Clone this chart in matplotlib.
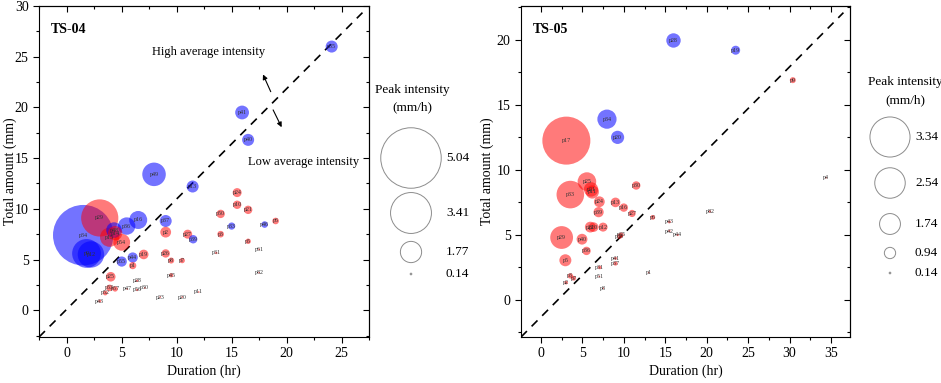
import numpy as np
import matplotlib
matplotlib.use("Agg")
import matplotlib.pyplot as plt
from matplotlib.ticker import MultipleLocator

plt.rcParams['font.family'] = ['Liberation Serif', 'DejaVu Serif']
plt.rcParams['axes.linewidth'] = 0.8

# TS-04 events: label, duration (hr), total amount (mm), peak intensity (mm/h), group
ts04_label = ['p35', 'p41', 'p40', 'p49', 'p13', 'p34', 'p9', 'p12', 'p16', 'p36', 'p48',
              'p37', 'p44', 'p55', 'p39', 'p33', 'p46',
              'p29', 'p15', 'p14', 'p54', 'p19', 'p1', 'p2', 'p27', 'p24', 'p10', 'p21',
              'p50', 'p3', 'p6', 'p5', 'p26', 'p8', 'p7', 'p25', 'p53', 'p57', 'p52',
              'p43', 'p45', 'p61', 'p31', 'p82', 'p28', 'p47', 'p56', 'p30', 'p23',
              'p20', 'p11']
ts04_dur = [24.1, 15.95, 16.5, 7.94, 11.45, 1.5, 1.8, 2.2, 6.5, 5.45, 4.3,
            9.0, 6.0, 5.0, 11.5, 15.0, 18.0,
            3.0, 3.9, 4.4, 5.0, 7.0, 6.0, 9.0, 11.0, 15.5, 15.5, 16.5,
            14.0, 14.0, 19.0, 16.5, 9.0, 9.5, 10.5, 4.0, 3.9, 4.4, 3.5,
            3.0, 9.5, 17.5, 13.6, 17.5, 6.4, 5.5, 6.4, 7.1, 8.5,
            10.5, 12.0]
ts04_amt = [26.0, 19.5, 16.8, 13.4, 12.2, 7.4, 5.6, 5.5, 8.9, 8.3, 7.9,
            8.8, 5.2, 4.8, 7.0, 8.3, 8.45,
            9.1, 7.2, 7.6, 6.7, 5.5, 4.4, 7.7, 7.5, 11.6, 10.4, 9.9,
            9.5, 7.5, 8.8, 6.8, 5.6, 4.9, 4.9, 3.3, 2.2, 2.1, 1.7,
            0.9, 3.45, 6.0, 5.65, 3.7, 2.9, 2.1, 2.0, 2.2, 1.3,
            1.3, 1.8]
ts04_peak = [1.0, 1.15, 1.0, 1.96, 1.0, 5.04, 2.4, 2.2, 1.5, 1.45, 1.3,
             1.0, 0.85, 0.85, 0.7, 0.6, 0.55,
             3.1, 1.6, 1.2, 1.4, 0.8, 0.6, 0.9, 0.75, 0.75, 0.7, 0.7,
             0.7, 0.55, 0.55, 0.45, 0.7, 0.5, 0.45, 0.8, 0.55, 0.45, 0.4,
             0.25, 0.35, 0.15, 0.2, 0.14, 0.2, 0.15, 0.2, 0.15, 0.14,
             0.14, 0.14]
ts04_grp = ['b'] * 17 + ['r'] * 34

# TS-05 events
ts05_label = ['p28', 'p19', 'p34', 'p20',
              'p9', 'p4', 'p17', 'p33', 'p25', 'p21', 'p11', 'p30', 'p24', 'p39',
              'p13', 'p16', 'p27', 'p6', 'p43', 'p42', 'p44', 'p82', 'p1', 'p22',
              'p10', 'p12', 'p29', 'p40', 'p36', 'p5', 'p38', 'p35', 'p41', 'p37',
              'p31', 'p51', 'p8', 'p3', 'p7', 'p2']
ts05_dur = [16.0, 23.5, 7.97, 9.25,
            30.4, 34.4, 3.07, 3.55, 5.55, 6.05, 6.2, 11.5, 7.05, 6.96,
            9.0, 10.0, 11.0, 13.5, 15.5, 15.5, 16.5, 20.4, 13.0, 5.96,
            6.36, 7.5, 2.5, 4.96, 5.5, 2.95, 9.5, 9.7, 9.0, 9.0,
            7.1, 7.05, 7.5, 3.55, 3.95, 3.04]
ts05_amt = [19.95, 19.2, 13.9, 12.5,
            16.9, 9.4, 12.25, 8.1, 9.1, 8.5, 8.3, 8.8, 7.55, 6.75,
            7.5, 7.1, 6.65, 6.35, 6.0, 5.3, 5.0, 6.8, 2.1, 5.6,
            5.6, 5.6, 4.8, 4.67, 3.77, 3.05, 4.9, 5.0, 3.2, 2.8,
            2.5, 1.8, 0.9, 1.85, 1.67, 1.33]
ts05_peak = [1.2, 0.75, 1.6, 1.1,
             0.5, 0.15, 4.0, 2.3, 1.55, 1.2, 1.1, 0.7, 0.9, 0.85,
             0.8, 0.7, 0.6, 0.4, 0.25, 0.2, 0.2, 0.2, 0.14, 0.9,
             0.8, 0.75, 1.9, 0.9, 0.7, 1.0, 0.45, 0.4, 0.25, 0.35,
             0.3, 0.15, 0.14, 0.45, 0.4, 0.3]
ts05_grp = ['b'] * 4 + ['r'] * 36

leg04 = [5.04, 3.41, 1.77, 0.14]
leg05 = [3.34, 2.54, 1.74, 0.94, 0.14]

colors = {'b': (0.0, 0.0, 1.0, 0.55), 'r': (1.0, 0.0, 0.0, 0.52)}


def bubble_size(v):
    # radius about 6 px per mm/h, figure at 100 dpi
    return (2 * 6.0 * np.asarray(v) * 0.72) ** 2


def draw_panel(ax, labels, dur, amt, peak, grp, xlim, ylim, xmax_tick, ymax_tick, tag, ylab_x):
    order = np.argsort(peak)[::-1]
    for i in order:
        ax.scatter(dur[i], amt[i], s=bubble_size(peak[i]), color=colors[grp[i]],
                   edgecolors='none', zorder=2)
        ax.text(dur[i], amt[i], labels[i], fontsize=4.3, color='#333333',
                ha='center', va='center', zorder=3)
    ax.plot([0, 0.98], [0, 0.98], transform=ax.transAxes, color='k',
            lw=1.2, ls=(0, (5, 4)), zorder=1)
    ax.set_xlim(*xlim)
    ax.set_ylim(*ylim)
    ax.set_xticks(np.arange(0, xmax_tick + 1, 5))
    ax.set_yticks(np.arange(0, ymax_tick + 1, 5))
    ax.xaxis.set_minor_locator(MultipleLocator(2.5))
    ax.yaxis.set_minor_locator(MultipleLocator(2.5))
    ax.tick_params(which='major', direction='out', length=4, width=0.8, labelsize=10)
    ax.tick_params(which='minor', direction='out', length=2.5, width=0.8)
    top = ax.secondary_xaxis('top')
    top.set_xticks(np.arange(0, xmax_tick + 1, 5))
    top.xaxis.set_minor_locator(MultipleLocator(2.5))
    top.tick_params(which='major', direction='in', length=4, width=0.8, labeltop=False)
    top.tick_params(which='minor', direction='in', length=2.5, width=0.8)
    right = ax.secondary_yaxis('right')
    right.set_yticks(np.arange(0, ymax_tick + 1, 5))
    right.yaxis.set_minor_locator(MultipleLocator(2.5))
    right.tick_params(which='major', direction='in', length=4, width=0.8, labelright=False)
    right.tick_params(which='minor', direction='in', length=2.5, width=0.8)
    ax.set_xlabel('Duration (hr)', fontsize=10, labelpad=3)
    ax.set_ylabel('Total amount (mm)', fontsize=10)
    ax.yaxis.set_label_coords(ylab_x, 0.5)
    ax.text(0.035, 0.93, tag, transform=ax.transAxes, fontsize=10,
            fontweight='bold', ha='left', va='center')


fig = plt.figure(figsize=(9.41, 3.83), dpi=100)
ax1 = fig.add_axes([0.0415, 0.1201, 0.3507, 0.8642])
ax2 = fig.add_axes([0.5537, 0.1201, 0.3496, 0.8642])

draw_panel(ax1, ts04_label, ts04_dur, ts04_amt, ts04_peak, ts04_grp,
           (-2.52, 27.5), (-2.64, 30), 25, 30, 'TS-04', -0.068)
draw_panel(ax2, ts05_label, ts05_dur, ts05_amt, ts05_peak, ts05_grp,
           (-2.4, 37.3), (-2.85, 22.6), 35, 20, 'TS-05', -0.082)

# annotations for the 1:1 line
ax1.text(12.9, 25.5, 'High average intensity', fontsize=9, ha='center', va='center')
ax1.text(21.5, 14.6, 'Low average intensity', fontsize=9, ha='center', va='center')
ax1.annotate('', xy=(17.75, 23.5), xytext=(18.66, 21.3),
             arrowprops=dict(arrowstyle='-|>', lw=0.8, color='k', mutation_scale=7))
ax1.annotate('', xy=(19.66, 17.8), xytext=(18.66, 20.0),
             arrowprops=dict(arrowstyle='-|>', lw=0.8, color='k', mutation_scale=7))

# bubble size legends, laid out in pixel coordinates
lax = fig.add_axes([0, 0, 1, 1])
lax.set_xlim(0, 941)
lax.set_ylim(383, 0)
lax.axis('off')

leg04_y = [158, 213, 252, 274]
lax.text(412, 90, 'Peak intensity', fontsize=9.5, ha='center', va='center')
lax.text(412, 107, '(mm/h)', fontsize=9.5, ha='center', va='center')
lax.scatter([411] * len(leg04), leg04_y, s=bubble_size(leg04), facecolors='white',
            edgecolors='#8c8c8c', linewidths=0.7)
for v, y in zip(leg04, leg04_y):
    lax.text(446, y, f'{v:.2f}', fontsize=9.5, ha='left', va='center')

leg05_y = [137, 183, 224, 253, 273]
lax.text(905, 82, 'Peak intensity', fontsize=9.5, ha='center', va='center')
lax.text(905, 100, '(mm/h)', fontsize=9.5, ha='center', va='center')
lax.scatter([890] * len(leg05), leg05_y, s=bubble_size(leg05), facecolors='white',
            edgecolors='#8c8c8c', linewidths=0.7)
for v, y in zip(leg05, leg05_y):
    lax.text(915, y, f'{v:.2f}', fontsize=9.5, ha='left', va='center')

fig.savefig('out.png', dpi=100)
